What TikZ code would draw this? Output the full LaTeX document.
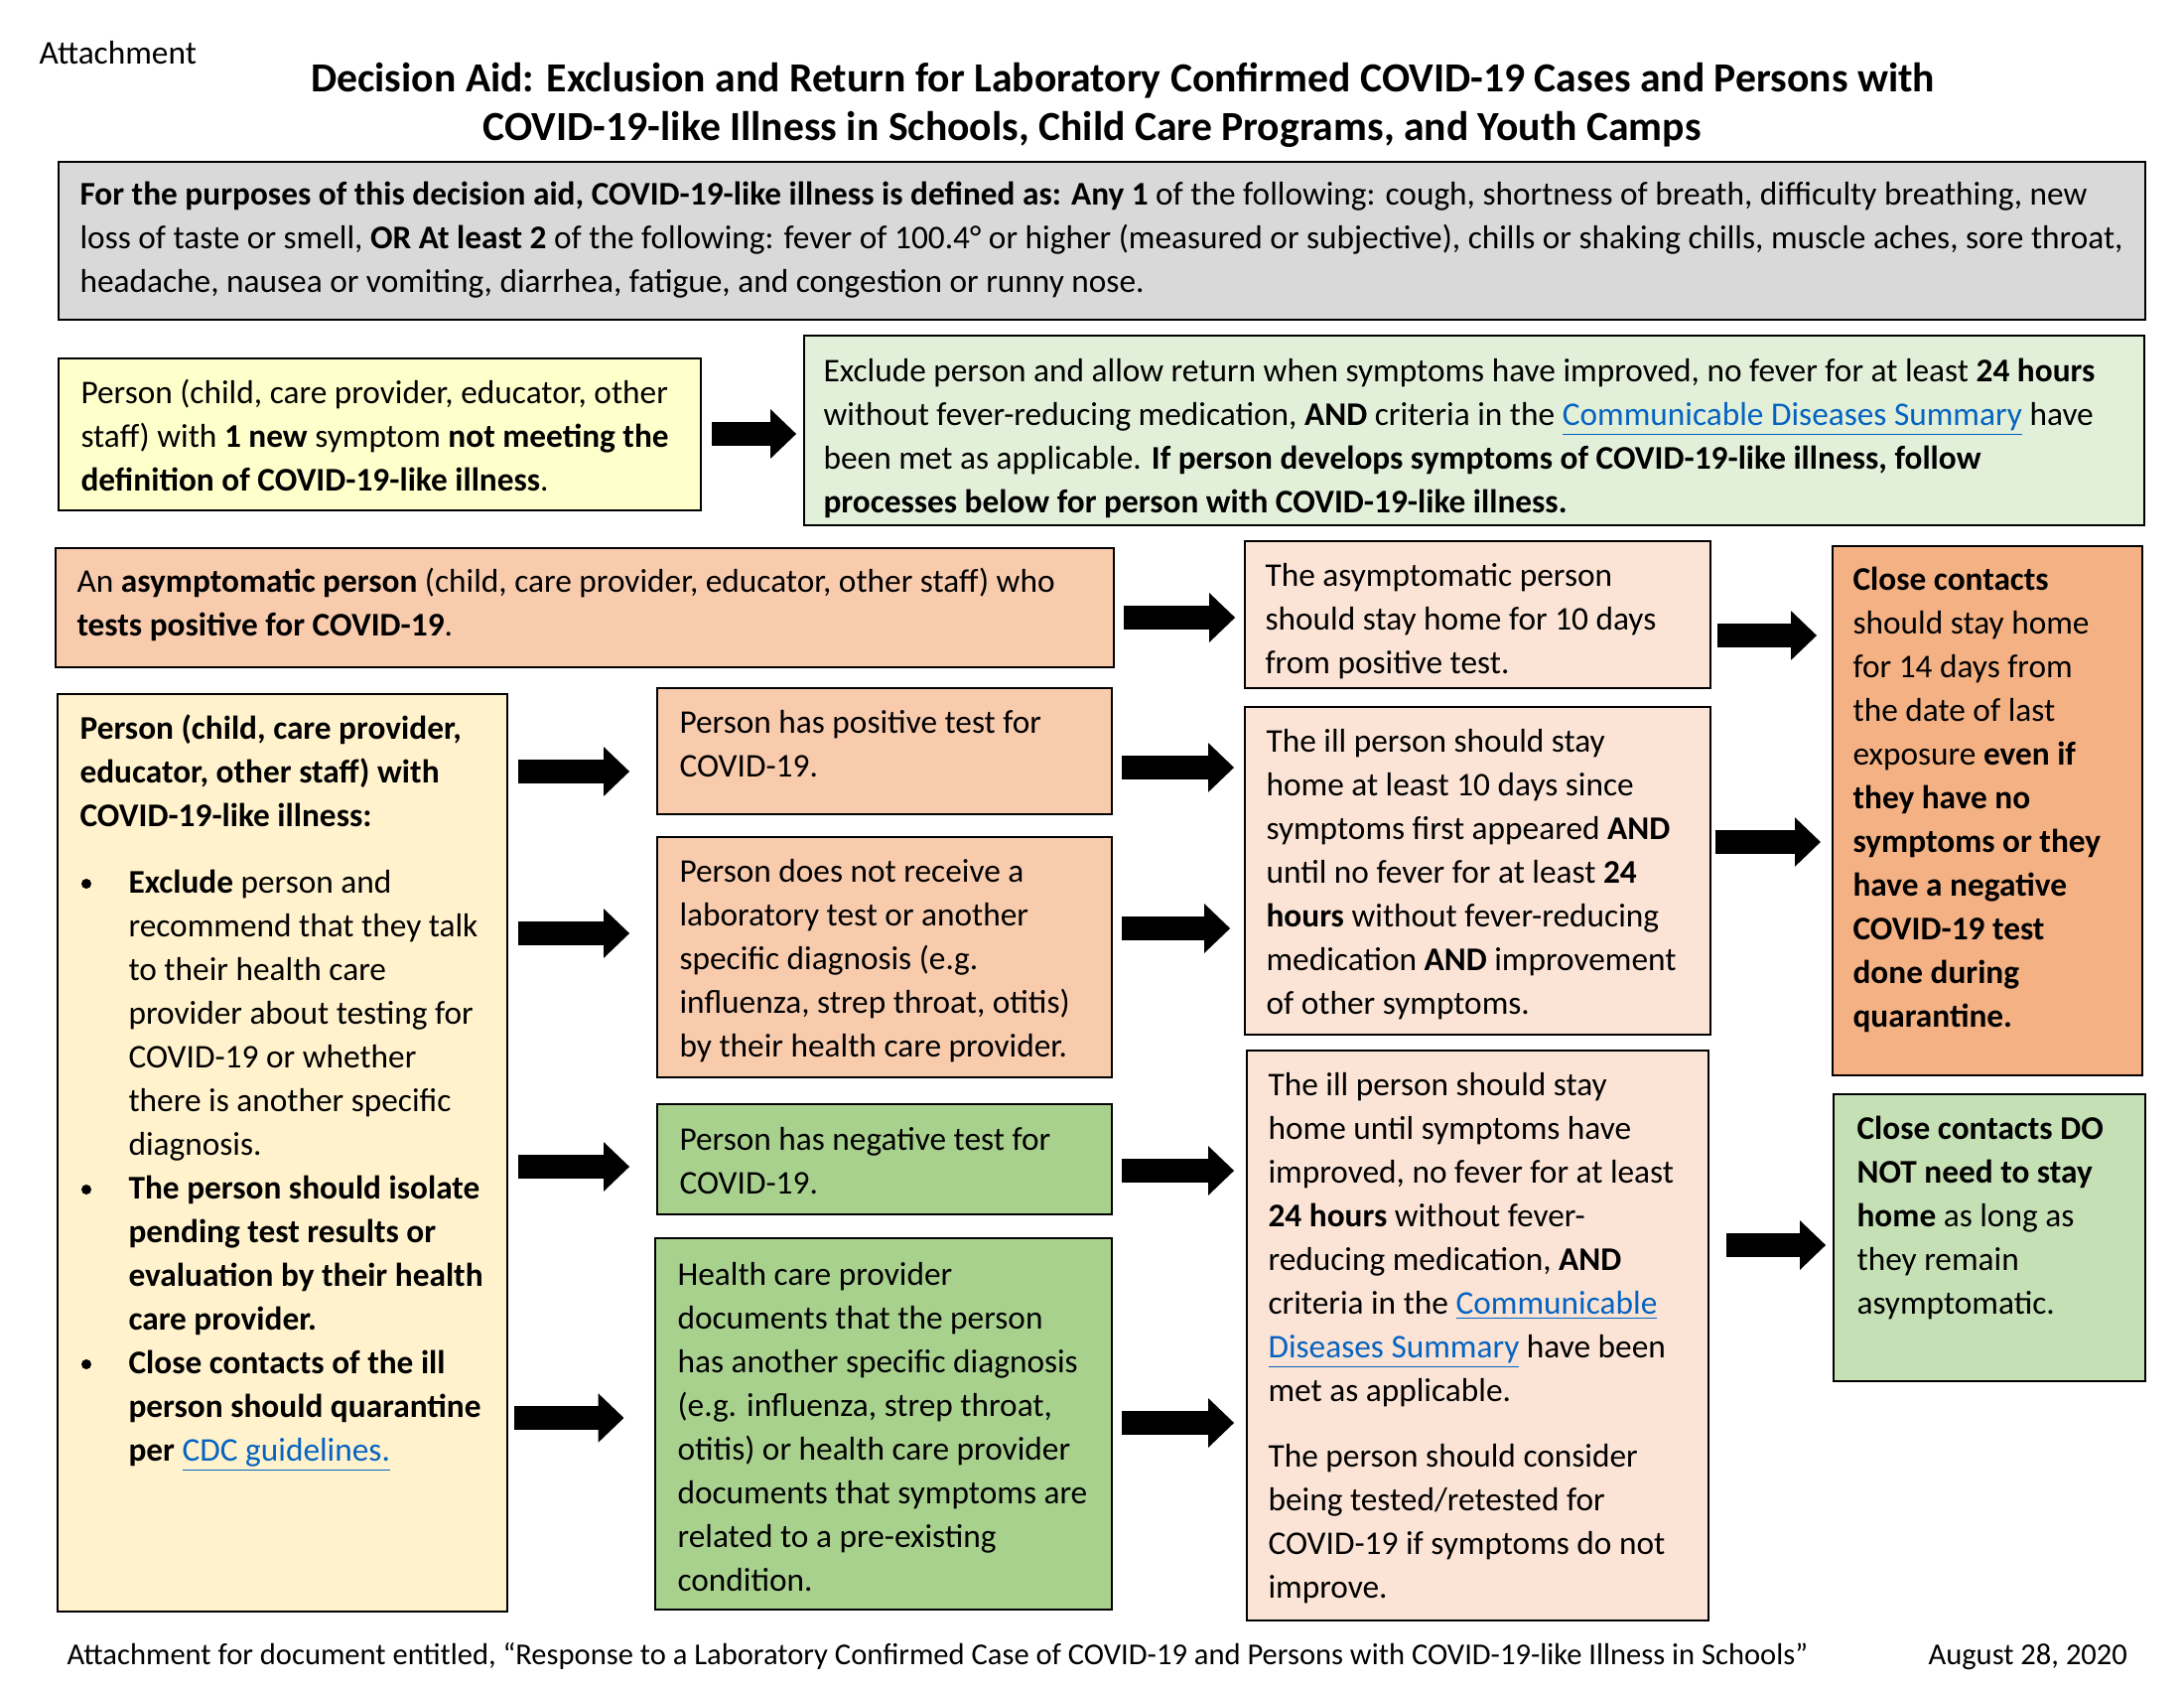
\documentclass[tikz,border=0pt]{standalone}
\usepackage{fontspec}
\setmainfont{Carlito}
\usetikzlibrary{arrows.meta,fit}
\definecolor{greyfill}{HTML}{D9D9D9}
\definecolor{ytopfill}{HTML}{FFFFCC}
\definecolor{gtopfill}{HTML}{E2EFD9}
\definecolor{peach}{HTML}{F8CBAD}
\definecolor{lpeach}{HTML}{FBE4D5}
\definecolor{orangefill}{HTML}{F4B183}
\definecolor{lyellow}{HTML}{FFF2CC}
\definecolor{greenfill}{HTML}{A9D18E}
\definecolor{lgreen}{HTML}{C5E0B4}
\definecolor{linkblue}{HTML}{0563C1}
\newcommand{\mylink}[1]{{\color{linkblue}\underline{#1}}}
\begin{document}
\begin{tikzpicture}[x=0.36pt,y=-0.36pt,
  box/.style={draw=black, line width=0.65pt, inner sep=0pt},
  txt/.style={anchor=base west, inner sep=0pt, align=left, yshift=-1.1pt, font=\fontsize{12pt}{15.84pt}\selectfont},
  small/.style={anchor=base west, inner sep=0pt, yshift=-0.8pt, font=\fontsize{11pt}{13pt}\selectfont},
  ttl/.style={anchor=base, inner sep=0pt, yshift=-1.6pt, font=\fontsize{15pt}{17.6pt}\selectfont\bfseries},
  blk/.style={line width=8.64pt, -{Triangle[length=9.36pt,width=17.28pt]}},
  bul/.style={circle, fill=black, inner sep=0pt, minimum size=3.6pt}]
\useasboundingbox[fill=white] (0,0) rectangle (2200,1700);

% header (multi-line text nodes are placed by the baseline of their last line)
\node[txt, yshift=-0.4pt] (att) at (39,60) {Attachment};
\node[ttl] (t1) at (1131,88) {Decision Aid: Exclusion and Return for Laboratory Confirmed COVID-19 Cases and Persons with};
\node[ttl] (t2) at (1100,137) {COVID-19-like Illness in Schools, Child Care Programs, and Youth Camps};

% boxes
\node[box, fill=greyfill, fit={(59,163) (2161,322)}] (grey) {};
\node[box, fill=ytopfill, fit={(59,361) (706,514)}] (ytop) {};
\node[box, fill=gtopfill, fit={(810,338) (2160,529)}] (gtop) {};
\node[box, fill=peach, fit={(56,552) (1122,672)}] (asym) {};
\node[box, fill=lpeach, fit={(1254,545) (1723,693)}] (asymhome) {};
\node[box, fill=orangefill, fit={(1846,550) (2158,1083)}] (closec) {};
\node[box, fill=lyellow, fit={(58,699) (511,1623)}] (ill) {};
\node[box, fill=peach, fit={(662,693) (1120,820)}] (ptest) {};
\node[box, fill=peach, fit={(662,843) (1120,1085)}] (notest) {};
\node[box, fill=greenfill, fit={(662,1112) (1120,1223)}] (neg) {};
\node[box, fill=greenfill, fit={(660,1247) (1120,1621)}] (hcp) {};
\node[box, fill=lpeach, fit={(1254,712) (1723,1042)}] (ill10) {};
\node[box, fill=lpeach, fit={(1256,1058) (1721,1632)}] (illuntil) {};
\node[box, fill=lgreen, fit={(1847,1102) (2161,1391)}] (nocc) {};

% texts
\node[txt] (greyt) at (80,291) {\textbf{For the purposes of this decision aid, COVID-19-like illness is defined as: Any 1} of the following: cough, shortness of breath, difficulty breathing, new\\
loss of taste or smell, \textbf{OR At least 2} of the following: fever of 100.4° or higher (measured or subjective), chills or shaking chills, muscle aches, sore throat,\\
headache, nausea or vomiting, diarrhea, fatigue, and congestion or runny nose.};

\node[txt] (ytopt) at (81,491) {Person (child, care provider, educator, other\\
staff) with \textbf{1 new} symptom \textbf{not meeting the}\\
\textbf{definition of COVID-19-like illness}.};

\node[txt] (gtopt) at (829,513) {Exclude person and allow return when symptoms have improved, no fever for at least \textbf{24 hours}\\
without fever-reducing medication, \textbf{AND} criteria in the \mylink{Communicable Diseases Summary} have\\
been met as applicable. \textbf{If person develops symptoms of COVID-19-like illness, follow}\\
\textbf{processes below for person with COVID-19-like illness.}};

\node[txt] (asymt) at (77,637) {An \textbf{asymptomatic person} (child, care provider, educator, other staff) who\\
\textbf{tests positive for COVID-19}.};

\node[txt] (asymhomet) at (1274,675) {The asymptomatic person\\
should stay home for 10 days\\
from positive test.};

\node[txt] (closect) at (1866,1031) {\textbf{Close contacts}\\
should stay home\\
for 14 days from\\
the date of last\\
exposure \textbf{even if}\\
\textbf{they have no}\\
\textbf{symptoms or they}\\
\textbf{have a negative}\\
\textbf{COVID-19 test}\\
\textbf{done during}\\
\textbf{quarantine.}};

\node[txt] (illt) at (80,829) {\textbf{Person (child, care provider,}\\
\textbf{educator, other staff) with}\\
\textbf{COVID-19-like illness:}};
\node[bul] (bd1) at (87,890) {};
\node[txt] (b1) at (129,1160) {\textbf{Exclude} person and\\
recommend that they talk\\
to their health care\\
provider about testing for\\
COVID-19 or whether\\
there is another specific\\
diagnosis.};
\node[bul] (bd2) at (87,1198) {};
\node[txt] (b2) at (129,1336) {\textbf{The person should isolate}\\
\textbf{pending test results or}\\
\textbf{evaluation by their health}\\
\textbf{care provider.}};
\node[bul] (bd3) at (87,1374) {};
\node[txt] (b3) at (129,1468) {\textbf{Close contacts of the ill}\\
\textbf{person should quarantine}\\
\textbf{per} \mylink{CDC guidelines.}};

\node[txt] (ptestt) at (684,779) {Person has positive test for\\
COVID-19.};
\node[txt] (notestt) at (684,1061) {Person does not receive a\\
laboratory test or another\\
specific diagnosis (e.g.\\
influenza, strep throat, otitis)\\
by their health care provider.};
\node[txt] (negt) at (684,1199) {Person has negative test for\\
COVID-19.};
\node[txt] (hcpt) at (682,1599) {Health care provider\\
documents that the person\\
has another specific diagnosis\\
(e.g. influenza, strep throat,\\
otitis) or health care provider\\
documents that symptoms are\\
related to a pre-existing\\
condition.};

\node[txt] (ill10t) at (1275,1018) {The ill person should stay\\
home at least 10 days since\\
symptoms first appeared \textbf{AND}\\
until no fever for at least \textbf{24}\\
\textbf{hours} without fever-reducing\\
medication \textbf{AND} improvement\\
of other symptoms.};

\node[txt] (illuntilt) at (1277,1606) {The ill person should stay\\
home until symptoms have\\
improved, no fever for at least\\
\textbf{24 hours} without fever-\\
reducing medication, \textbf{AND}\\
criteria in the \mylink{Communicable}\\
\mylink{Diseases Summary} have been\\
met as applicable.\\[7.9pt]
The person should consider\\
being tested/retested for\\
COVID-19 if symptoms do not\\
improve.};

\node[txt] (nocct) at (1870,1320) {\textbf{Close contacts DO}\\
\textbf{NOT need to stay}\\
\textbf{home} as long as\\
they remain\\
asymptomatic.};

% footer
\node[small] (foot) at (67,1674) {Attachment for document entitled, “Response to a Laboratory Confirmed Case of COVID-19 and Persons with COVID-19-like Illness in Schools”};
\node[small] (date) at (1942,1674) {August 28, 2020};

% arrow rows
\coordinate (r1) at (0,437);
\coordinate (r2) at (0,622);
\coordinate (r3) at (0,640);
\coordinate (r4) at (0,777);
\coordinate (r5) at (0,940);
\coordinate (r6) at (0,1175);
\coordinate (r7) at (0,1428);
\coordinate (r8) at (0,773);
\coordinate (r9) at (0,935);
\coordinate (r10) at (0,1179);
\coordinate (r11) at (0,1433);
\coordinate (r12) at (0,848);
\coordinate (r13) at (0,1254);

\draw[blk, shorten <=3.6pt, shorten >=2.5pt] (ytop.east |- r1) -- (gtop.west |- r1);
\draw[blk, shorten <=3.2pt, shorten >=3.2pt] (asym.east |- r2) -- (asymhome.west |- r2);
\draw[blk, shorten <=2.2pt, shorten >=5.4pt] (asymhome.east |- r3) -- (closec.west |- r3);
\draw[blk, shorten <=3.6pt, shorten >=9.7pt] (ill.east |- r4) -- (ptest.west |- r4);
\draw[blk, shorten <=3.6pt, shorten >=9.7pt] (ill.east |- r5) -- (notest.west |- r5);
\draw[blk, shorten <=3.6pt, shorten >=9.7pt] (ill.east |- r6) -- (neg.west |- r6);
\draw[blk, shorten <=2.2pt, shorten >=11pt] (ill.east |- r7) -- (hcp.west |- r7);
\draw[blk, shorten <=3.2pt, shorten >=3.6pt] (ptest.east |- r8) -- (ill10.west |- r8);
\draw[blk, shorten <=3.2pt, shorten >=5pt] (notest.east |- r9) -- (ill10.west |- r9);
\draw[blk, shorten <=3.2pt, shorten >=4.3pt] (neg.east |- r10) -- (illuntil.west |- r10);
\draw[blk, shorten <=3.2pt, shorten >=4.3pt] (hcp.east |- r11) -- (illuntil.west |- r11);
\draw[blk, shorten <=1.4pt, shorten >=4pt] (ill10.east |- r12) -- (closec.west |- r12);
\draw[blk, shorten <=6.1pt, shorten >=2.5pt] (illuntil.east |- r13) -- (nocc.west |- r13);
\end{tikzpicture}
\end{document}
